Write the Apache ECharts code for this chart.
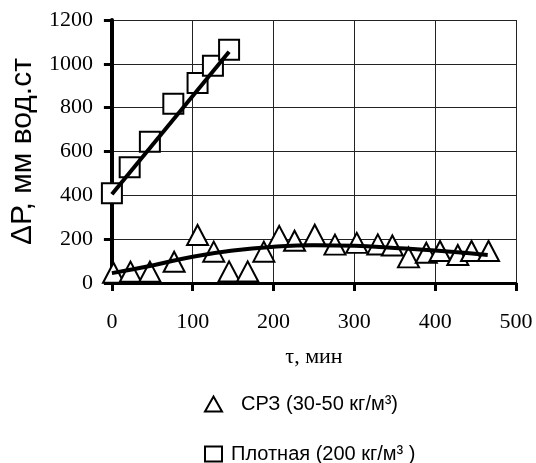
<!DOCTYPE html>
<html>
<head>
<meta charset="utf-8">
<script src="https://cdn.jsdelivr.net/npm/echarts@6/dist/echarts.min.js"></script>
<style>
  html, body { margin: 0; padding: 0; background: #fff; }
  #main { width: 536px; height: 463px; }
</style>
</head>
<body>
<div id="main"></div>
<script>
// СРЗ (triangles)
var srzTime = [2, 23, 47, 77, 106, 126, 145, 168, 188, 207, 226, 251, 276, 303, 329, 347, 367, 389, 406, 428, 445, 466];
var srzDp = [47, 52, 52, 97, 219, 143, 53, 53, 143, 215, 193, 220, 175, 183, 176, 171, 117, 138, 146, 128, 146, 146];
// Плотная (squares)
var densTime = [0, 22, 47, 76, 106, 125, 145];
var densDp = [410, 528, 644, 818, 912, 991, 1064];
// trend lines
var srzTrendTime = [0, 50, 100, 150, 200, 250, 300, 350, 400, 465];
var srzTrendDp = [45, 80, 120, 148, 165, 172, 170, 160, 148, 128];
var densTrendTime = [0, 145];
var densTrendDp = [405, 1055];

var srzName = 'СРЗ (30-50 кг/м³)';
var densName = 'Плотная (200 кг/м³ )';

function pairs(xs, ys) {
  return xs.map(function (x, i) { return [x, ys[i]]; });
}

var chartDom = document.getElementById('main');
var myChart = echarts.init(chartDom);
var option;

var serif = 'Liberation Serif';
var sans = 'Liberation Sans';

function legendFor(name, top, pad) {
  return {
    left: 199,
    top: top,
    itemWidth: 17,
    itemHeight: 15,
    textStyle: { fontFamily: sans, fontSize: 20, color: '#000', padding: [0, 0, 0, pad] },
    data: [name]
  };
}

option = {
  animation: false,
  grid: { left: 111, right: 20, top: 20, bottom: 180 },
  legend: [
    legendFor(srzName, 389, 14),
    legendFor(densName, 439, 4)
  ],
  xAxis: {
    type: 'value',
    min: 0,
    max: 500,
    interval: 100,
    name: 'τ, мин',
    nameLocation: 'middle',
    nameGap: 63,
    nameTextStyle: { fontFamily: serif, fontSize: 22, color: '#000' },
    axisLine: { show: true, lineStyle: { color: '#000', width: 3 } },
    axisTick: { show: true, length: 8, lineStyle: { color: '#000', width: 3 } },
    axisLabel: { fontFamily: serif, fontSize: 22, color: '#000', margin: 28 },
    splitLine: { show: true, lineStyle: { color: '#222', width: 1 } }
  },
  yAxis: {
    type: 'value',
    min: 0,
    max: 1200,
    interval: 200,
    name: 'ΔР, мм вод.ст',
    nameLocation: 'middle',
    nameGap: 73,
    nameTextStyle: { fontFamily: sans, fontSize: 30, color: '#000' },
    axisLine: { show: true, lineStyle: { color: '#000', width: 4 } },
    axisTick: { show: true, length: 8, lineStyle: { color: '#000', width: 3 } },
    axisLabel: {
      fontFamily: serif, fontSize: 22, color: '#000', margin: 19,
      formatter: function (v) { return String(v); }
    },
    splitLine: { show: true, lineStyle: { color: '#222', width: 1 } }
  },
  series: [
    {
      name: srzName,
      type: 'scatter',
      symbol: 'triangle',
      symbolSize: [21, 20],
      z: 2,
      itemStyle: { color: '#fff', borderColor: '#000', borderWidth: 2, opacity: 1 },
      data: pairs(srzTime, srzDp)
    },
    {
      name: densName,
      type: 'scatter',
      symbol: 'rect',
      symbolSize: [20, 20],
      z: 2,
      itemStyle: { color: '#fff', borderColor: '#000', borderWidth: 2, opacity: 1 },
      data: pairs(densTime, densDp)
    },
    {
      name: 'srzTrend',
      type: 'line',
      smooth: true,
      showSymbol: false,
      z: 4,
      lineStyle: { color: '#000', width: 4 },
      data: pairs(srzTrendTime, srzTrendDp)
    },
    {
      name: 'densTrend',
      type: 'line',
      showSymbol: false,
      z: 4,
      lineStyle: { color: '#000', width: 4 },
      data: pairs(densTrendTime, densTrendDp)
    }
  ]
};

option && myChart.setOption(option);
</script>
</body>
</html>
